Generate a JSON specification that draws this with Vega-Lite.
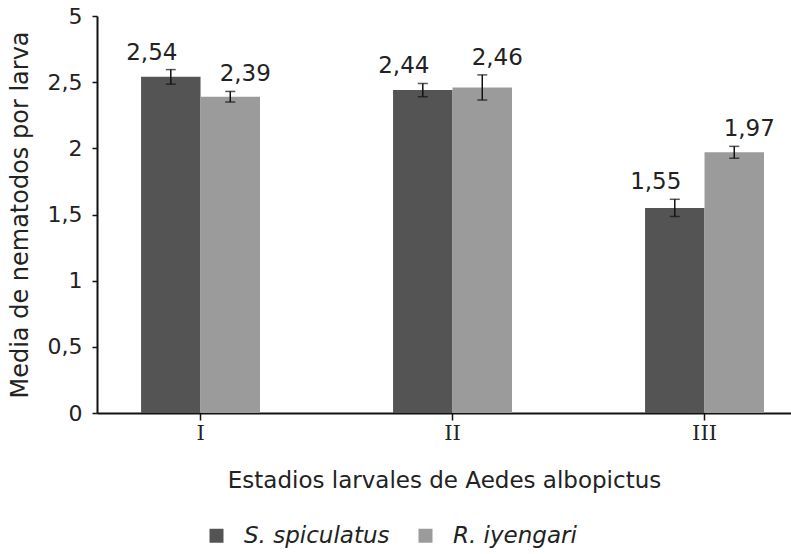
{
  "$schema": "https://vega.github.io/schema/vega-lite/v6.json",
  "width": 694,
  "height": 397,
  "autosize": {"type": "none"},
  "padding": {"left": 97, "top": 16, "right": 0, "bottom": 141},
  "config": {
    "locale": {"number": {"decimal": ",", "thousands": ".", "grouping": [3], "currency": ["", " €"]}},
    "view": {"stroke": null},
    "font": "DejaVu Sans",
    "axis": {"grid": false, "domainColor": "#111", "tickColor": "#111", "labelColor": "#222", "titleColor": "#222", "labelFont": "DejaVu Sans", "titleFont": "DejaVu Sans", "titleFontWeight": "normal"}
  },
  "data": {
    "values": [
      {"estadio": "I", "especie": "S. spiculatus", "media": 2.54, "inf": 2.485, "sup": 2.595},
      {"estadio": "I", "especie": "R. iyengari", "media": 2.39, "inf": 2.35, "sup": 2.43},
      {"estadio": "II", "especie": "S. spiculatus", "media": 2.44, "inf": 2.39, "sup": 2.49},
      {"estadio": "II", "especie": "R. iyengari", "media": 2.46, "inf": 2.365, "sup": 2.555},
      {"estadio": "III", "especie": "S. spiculatus", "media": 1.55, "inf": 1.485, "sup": 1.615},
      {"estadio": "III", "especie": "R. iyengari", "media": 1.97, "inf": 1.925, "sup": 2.015}
    ]
  },
  "encoding": {
    "x": {
      "field": "estadio", "type": "nominal", "sort": ["I", "II", "III"],
      "scale": {"paddingInner": 0.528, "paddingOuter": 0.141, "align": 0.62},
      "axis": {
        "title": "Estadios larvales de Aedes albopictus",
        "labelAngle": 0, "labelFont": "DejaVu Serif", "labelFontSize": 21,
        "tickSize": 7, "tickWidth": 1.5, "domainWidth": 2, "labelPadding": 2,
        "titleFontSize": 23, "titlePadding": 26
      }
    },
    "xOffset": {"field": "especie", "type": "nominal", "sort": ["S. spiculatus", "R. iyengari"], "scale": {"paddingInner": 0, "paddingOuter": 0}}
  },
  "layer": [
    {
      "mark": {"type": "bar"},
      "encoding": {
        "y": {
          "field": "media", "type": "quantitative",
          "scale": {"domain": [0, 3], "nice": false},
          "axis": {
            "title": "Media de nematodos por larva",
            "values": [0, 0.5, 1, 1.5, 2, 2.5, 3],
            "labelExpr": "datum.value == 3 ? '5' : format(datum.value, '~g')",
            "labelFontSize": 22, "tickSize": 5, "tickWidth": 1.5, "domainWidth": 2,
            "labelPadding": 10, "titleFontSize": 24, "titlePadding": 15
          }
        },
        "color": {
          "field": "especie", "type": "nominal", "sort": ["S. spiculatus", "R. iyengari"],
          "scale": {"range": ["#545454", "#9b9b9b"]},
          "legend": {
            "title": null, "orient": "none", "direction": "horizontal",
            "legendX": 108, "legendY": 508,
            "symbolType": "square", "symbolSize": 196, "symbolStrokeWidth": 0,
            "labelFontSize": 23, "labelFontStyle": "italic", "labelColor": "#222",
            "labelOffset": 16, "columnPadding": 24
          }
        }
      }
    },
    {
      "mark": {"type": "rule", "color": "#111", "strokeWidth": 1.5},
      "encoding": {
        "y": {"field": "inf", "type": "quantitative", "title": "Media de nematodos por larva"},
        "y2": {"field": "sup"}
      }
    },
    {
      "mark": {"type": "tick", "color": "#111", "thickness": 1.5, "size": 10},
      "encoding": {"y": {"field": "inf", "type": "quantitative", "title": "Media de nematodos por larva"}}
    },
    {
      "mark": {"type": "tick", "color": "#111", "thickness": 1.5, "size": 10},
      "encoding": {"y": {"field": "sup", "type": "quantitative", "title": "Media de nematodos por larva"}}
    },
    {
      "transform": [{"filter": "datum.especie == 'S. spiculatus'"}],
      "mark": {"type": "text", "dx": -19, "dy": -5, "baseline": "bottom", "fontSize": 23, "color": "#222"},
      "encoding": {
        "y": {"field": "sup", "type": "quantitative", "title": "Media de nematodos por larva"},
        "text": {"field": "media", "type": "quantitative", "format": ".2f"}
      }
    },
    {
      "transform": [{"filter": "datum.especie == 'R. iyengari'"}],
      "mark": {"type": "text", "dx": 15, "dy": -5, "baseline": "bottom", "fontSize": 23, "color": "#222"},
      "encoding": {
        "y": {"field": "sup", "type": "quantitative", "title": "Media de nematodos por larva"},
        "text": {"field": "media", "type": "quantitative", "format": ".2f"}
      }
    }
  ]
}
